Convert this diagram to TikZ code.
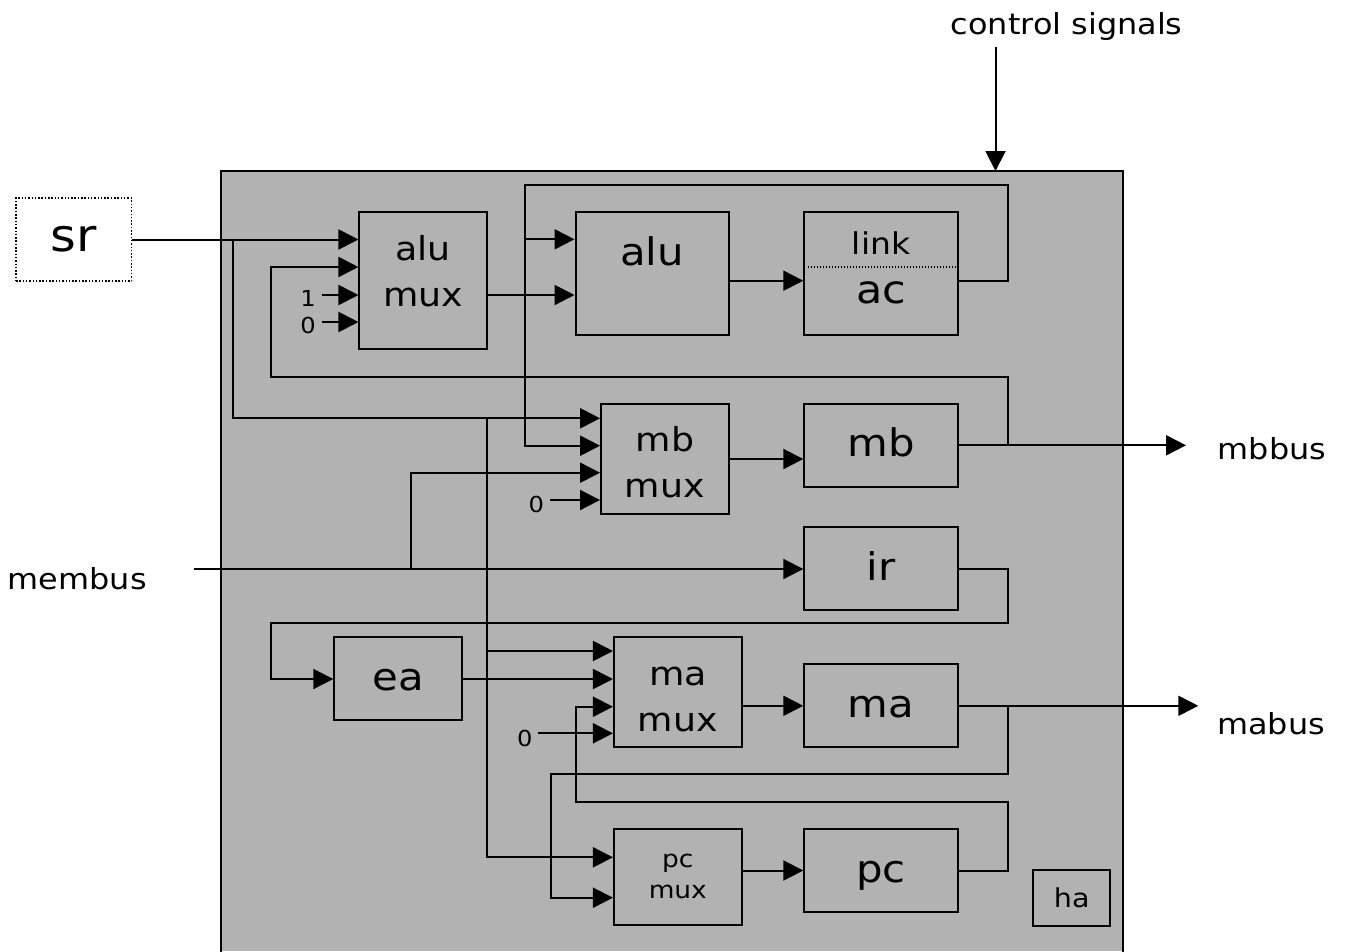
\documentclass[tikz,border=0pt]{standalone}
\usepackage{fontspec}
\setmainfont{DejaVu Sans}[FakeStretch=1.1]
\usetikzlibrary{arrows.meta}
\definecolor{panel}{gray}{0.70}
\tikzset{
  wire/.style={line width=2pt},
  arr/.style={line width=2pt,-{Triangle[length=20pt,width=20pt]}},
  box/.style={draw,line width=2pt,inner sep=0pt,text depth=0pt},
  muxbox/.style={box,minimum width=127.7pt},
  regbox/.style={box,minimum width=153.4pt,minimum height=82.7pt,text height=23pt,font=\fontsize{38}{40}\selectfont},
  muxtxt/.style={anchor=base,inner sep=0pt,font=\fontsize{33}{36}\selectfont},
  smalltxt/.style={anchor=base,inner sep=0pt,font=\fontsize{22}{24}\selectfont},
  outtxt/.style={anchor=base,inner sep=0pt,font=\fontsize{29}{32}\selectfont},
}
\begin{document}
\begin{tikzpicture}[x=1pt,y=-1pt]
\useasboundingbox (0,0) rectangle (1346,951);
% panel
\fill[panel] (220.5,171) rectangle (1122.7,951);
\draw[wire] (220.5,952) -- (220.5,171) -- (1122.7,171) -- (1122.7,952);

% boxes
\node[draw,dash pattern=on 1.5pt off 1.8pt,line width=1.5pt,fill=white,inner sep=0pt,
      minimum width=115.5pt,minimum height=83pt,text height=24.4pt,text depth=0pt,
      font=\fontsize{45}{48}\selectfont] (sr) at (73.8,239.5) {sr};
\node[muxbox,minimum height=137pt] (alumux) at (423.3,280.5) {};
\node[regbox,minimum height=122.7pt] (alu) at (652.2,273.7) {};
\node[regbox,minimum height=122.7pt] (ac) at (881,273.7) {};
\node[muxbox,minimum height=110pt] (mbmux) at (664.9,459) {};
\node[regbox] (mb) at (881,445.3) {mb};
\node[regbox] (ir) at (881,568.7) {ir};
\node[regbox,minimum width=127.4pt,minimum height=82.4pt] (ea) at (398,678.5) {ea};
\node[muxbox,minimum height=110pt] (mamux) at (677.8,692.3) {};
\node[regbox,minimum height=83pt] (ma) at (881,705.8) {ma};
\node[muxbox,minimum height=95.7pt] (pcmux) at (677.8,877.2) {};
\node[regbox,minimum height=82.4pt] (pc) at (881,870.5) {pc};
\node[box,minimum width=76.7pt,minimum height=55.3pt,text height=19pt,font=\fontsize{26}{28}\selectfont] (ha) at (1071.7,898) {ha};

% labels inside boxes
\node[muxtxt] (alumuxa) at (423.3,260) {alu};
\node[muxtxt] (alumuxb) at (423.3,306) {mux};
\node[muxtxt] (mbmuxa) at (664.9,451.7) {mb};
\node[muxtxt] (mbmuxb) at (664.9,497) {mux};
\node[muxtxt] (mamuxa) at (677.8,685) {ma};
\node[muxtxt] (mamuxb) at (677.8,731) {mux};
\node[anchor=base,inner sep=0pt,font=\fontsize{24}{26}\selectfont] (pcmuxa) at (677.8,867.3) {pc};
\node[anchor=base,inner sep=0pt,font=\fontsize{24}{26}\selectfont] (pcmuxb) at (677.8,898.3) {mux};
\node[anchor=base,inner sep=0pt,font=\fontsize{38}{40}\selectfont] (alutxt) at (652.2,265) {alu};
\node[anchor=base,inner sep=0pt,font=\fontsize{30}{32}\selectfont] (linktxt) at (881,254) {link};
\node[anchor=base,inner sep=0pt,font=\fontsize{39}{42}\selectfont] (actxt) at (881,303) {ac};
\draw[line width=1.3pt,dash pattern=on 1.4pt off 1.6pt] (808,267) -- (957.7,267);

% constant inputs
\node[smalltxt] (one) at (308,306) {1};
\node[smalltxt] (zeroa) at (308,333) {0};
\node[smalltxt] (zerob) at (536.3,512.3) {0};
\node[smalltxt] (zeroc) at (524.7,746) {0};
\coordinate (onew) at (321.7,295);
\coordinate (zeroaw) at (321.7,322);
\coordinate (zerobw) at (550,500);
\coordinate (zerocw) at (537.7,733.3);
\draw[arr] (onew) -- (alumux.west |- onew);
\draw[arr] (zeroaw) -- (alumux.west |- zeroaw);
\draw[arr] (zerobw) -- (mbmux.west |- zerobw);
\draw[arr] (zerocw) -- (mamux.west |- zerocw);

% outside labels
\node[outtxt] (ctl) at (1066.7,34) {control signals};
\node[outtxt] (mbbus) at (1272,459.3) {mbbus};
\node[outtxt] (mabus) at (1271,734) {mabus};
\node[outtxt] (membus) at (77.2,589) {membus};
\coordinate (csin) at (995.5,47);
\coordinate (csend) at (995.5,171);
\coordinate (mbbusend) at (1186,445.3);
\coordinate (mabusend) at (1198.3,705.8);
\coordinate (membusin) at (194.3,569);

% junctions
\coordinate (jsr) at (232.5,239.5);
\coordinate (jsr2) at (486.7,418.3);
\coordinate (jsr3) at (486.7,651);
\coordinate (jmb) at (1008.3,445.3);
\coordinate (jac) at (525,239.3);
\coordinate (jmem) at (410.7,569);
\coordinate (jma) at (1008.3,705.8);

% connectors
\draw[arr] (csin) -- (csend);
\draw[arr] (sr.east) -- (alumux.west |- sr.east);
\draw[arr] (jsr) |- (mbmux.west |- jsr2);
\draw[arr] (jsr2) |- (pcmux.west |- 0,857.3);
\draw[arr] (jsr3) -- (mamux.west |- jsr3);

\draw[arr] (mb.east) -- (mbbusend);
\draw[arr] (jmb) |- (270.7,376.7) |- (alumux.west |- 0,267);

\draw[arr] (ac.east |- 0,280.7) -| (1008.3,185) -| (525,445.7) -- (mbmux.west |- 0,445.7);
\draw[arr] (jac) -- (alu.west |- jac);
\draw[arr] (alumux.east |- 0,295) -- (alu.west |- 0,295);
\draw[arr] (alu.east |- 0,280.7) -- (ac.west |- 0,280.7);

\draw[arr] (membusin) -- (ir.west |- membusin);
\draw[arr] (jmem) |- (mbmux.west |- 0,472.7);
\draw[arr] (mbmux.east) -- (mb.west |- mbmux.east);

\draw[arr] (ir.east) -| (1008.3,623.3) -| (270.7,679) -- (ea.west |- 0,679);
\draw[arr] (ea.east |- 0,679) -- (mamux.west |- 0,679);

\draw[arr] (mamux.east |- ma.west) -- (ma.west);
\draw[arr] (ma.east) -- (mabusend);
\draw[arr] (jma) |- (550.7,774.3) |- (pcmux.west |- 0,897.7);

\draw[arr] (pcmux.east |- pc.west) -- (pc.west);
\draw[arr] (pc.east) -| (1008.3,802.3) -| (576,706.7) -- (mamux.west |- 0,706.7);
\end{tikzpicture}
\end{document}
